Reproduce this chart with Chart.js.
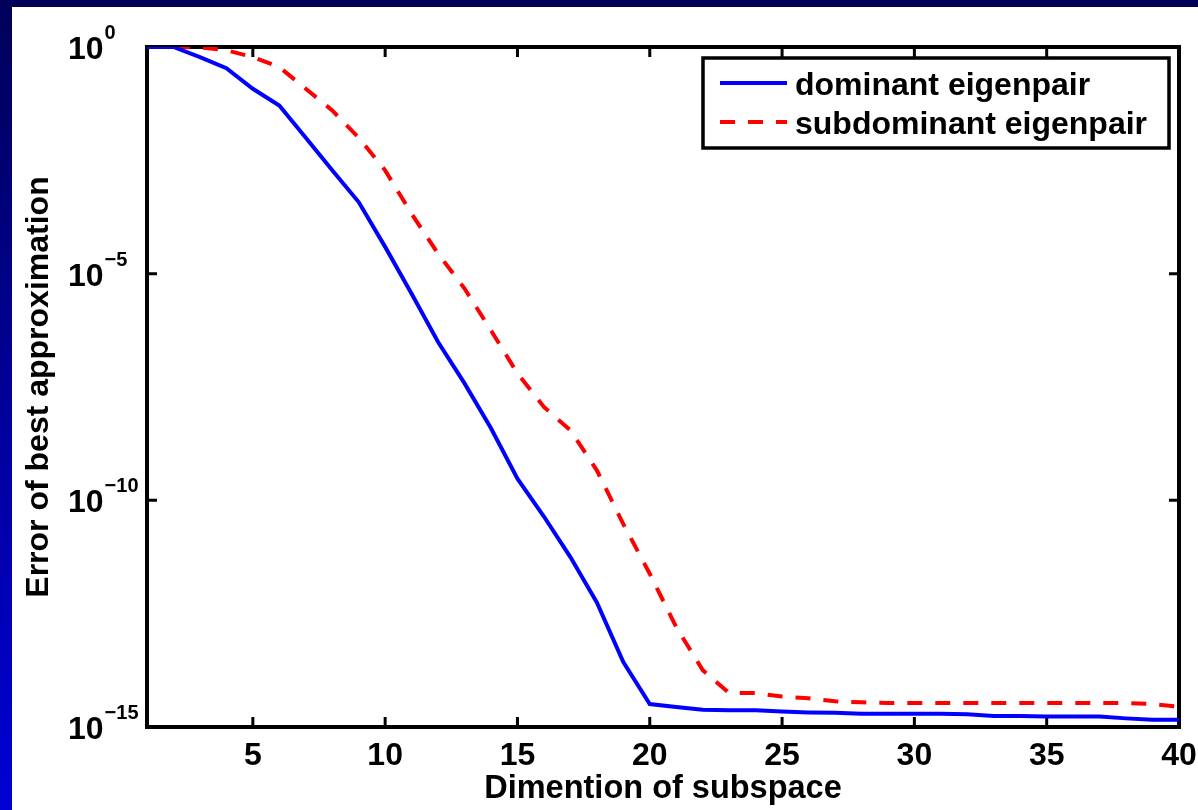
<!DOCTYPE html>
<html>
<head>
<meta charset="utf-8">
<title>Error of best approximation</title>
<script src="https://cdn.jsdelivr.net/npm/chart.js@4.4.1/dist/chart.umd.min.js"></script>
<style>
  html, body { margin: 0; padding: 0; }
  body {
    width: 1198px; height: 810px; overflow: hidden; position: relative;
    background: linear-gradient(to bottom, #000058 0%, #00009a 50%, #0000d4 100%);
  }
  #errChart { position: absolute; left: 12px; top: 7px; background: #ffffff; }
</style>
</head>
<body>
<canvas id="errChart" width="1186" height="803"></canvas>
<script>
// subspace dimension
var dims = [1, 2, 3, 4, 5, 6, 7, 8, 9, 10,
            11, 12, 13, 14, 15, 16, 17, 18, 19, 20,
            21, 22, 23, 24, 25, 26, 27, 28, 29, 30,
            31, 32, 33, 34, 35, 36, 37, 38, 39, 40];

// error of best approximation, dominant eigenpair
var dominantErr = [1, 1, 0.6, 0.34, 0.12, 0.051, 1.0e-2, 1.9e-3, 3.8e-4, 3.9e-5,
                   3.6e-6, 3.1e-7, 3.8e-8, 3.9e-9, 3.0e-10, 4.4e-11, 5.6e-12, 5.6e-13, 2.7e-14, 3.2e-15,
                   2.75e-15, 2.4e-15, 2.35e-15, 2.35e-15, 2.2e-15, 2.1e-15, 2.05e-15, 1.95e-15, 1.95e-15, 1.95e-15,
                   1.95e-15, 1.9e-15, 1.75e-15, 1.75e-15, 1.7e-15, 1.7e-15, 1.7e-15, 1.55e-15, 1.45e-15, 1.45e-15];

// error of best approximation, subdominant eigenpair
var subdominantErr = [1, 1, 0.98, 0.85, 0.6, 0.36, 0.12, 0.04, 1.0e-2, 1.9e-3,
                      2.1e-4, 2.75e-5, 4.7e-6, 5.6e-7, 6.3e-8, 1.15e-8, 3.5e-9, 4.6e-10, 3.0e-11, 2.4e-12,
                      1.6e-13, 1.8e-14, 5.6e-15, 5.6e-15, 4.7e-15, 4.3e-15, 3.7e-15, 3.5e-15, 3.4e-15, 3.4e-15,
                      3.4e-15, 3.4e-15, 3.4e-15, 3.4e-15, 3.4e-15, 3.4e-15, 3.4e-15, 3.4e-15, 3.2e-15, 2.8e-15];

var xTicks = [5, 10, 15, 20, 25, 30, 35, 40];
var yTicks = [1, 1e-5, 1e-10, 1e-15];
var yTickExp = ['0', '\u22125', '\u221210', '\u221215'];

var FONT = '"Liberation Sans", Arial, Helvetica, sans-serif';

function toPoints(xs, ys) {
    var pts = [];
    for (var i = 0; i < xs.length; i++) pts.push({x: xs[i], y: ys[i]});
    return pts;
}

// box, inward tick marks and the 10^n labels
var axesBox = {
    id: 'axesBox',
    beforeDatasetsDraw: function(chart) {
        var ctx = chart.ctx, a = chart.chartArea;
        var xs = chart.scales.x, ys = chart.scales.y;
        ctx.save();
        ctx.strokeStyle = '#000';
        ctx.lineWidth = 3;
        ctx.beginPath();
        xTicks.forEach(function(v) {
            var px = xs.getPixelForValue(v);
            ctx.moveTo(px, a.bottom); ctx.lineTo(px, a.bottom - 10);
            ctx.moveTo(px, a.top); ctx.lineTo(px, a.top + 10);
        });
        yTicks.forEach(function(v) {
            var py = ys.getPixelForValue(v);
            ctx.moveTo(a.left, py); ctx.lineTo(a.left + 10, py);
            ctx.moveTo(a.right, py); ctx.lineTo(a.right - 10, py);
        });
        ctx.stroke();
        ctx.lineWidth = 4;
        ctx.strokeRect(a.left, a.top, a.right - a.left, a.bottom - a.top);

        ctx.fillStyle = '#000';
        ctx.textAlign = 'left';
        ctx.textBaseline = 'alphabetic';
        yTicks.forEach(function(v, i) {
            var py = ys.getPixelForValue(v);
            ctx.font = 'bold 32px ' + FONT;
            ctx.fillText('10', 56, py + 12);
            var w = ctx.measureText('10').width;
            ctx.font = 'bold 20px ' + FONT;
            ctx.fillText(yTickExp[i], 56 + w + 1, py - 8);
        });
        ctx.restore();
    },
    afterDraw: function(chart) {
        // legend box
        var ctx = chart.ctx;
        var bx = 691, by = 51, bw = 466, bh = 90;
        ctx.save();
        ctx.fillStyle = '#fff';
        ctx.fillRect(bx, by, bw, bh);
        ctx.strokeStyle = '#000';
        ctx.lineWidth = 3.5;
        ctx.strokeRect(bx, by, bw, bh);
        var rows = [76, 115];
        chart.data.datasets.forEach(function(ds, i) {
            ctx.beginPath();
            ctx.strokeStyle = ds.borderColor;
            ctx.lineWidth = ds.borderWidth;
            ctx.setLineDash(ds.borderDash || []);
            ctx.moveTo(708, rows[i]);
            ctx.lineTo(775, rows[i]);
            ctx.stroke();
            ctx.setLineDash([]);
            ctx.fillStyle = '#000';
            ctx.font = 'bold 32px ' + FONT;
            ctx.textBaseline = 'middle';
            ctx.textAlign = 'left';
            ctx.fillText(ds.label, 783, rows[i] + 3);
        });
        ctx.restore();
    }
};

var ctx = document.getElementById('errChart').getContext('2d');
var errChart = new Chart(ctx, {
    type: 'line',
    data: {
        datasets: [{
            label: 'dominant eigenpair',
            data: toPoints(dims, dominantErr),
            borderColor: '#0000ff',
            borderWidth: 4,
            pointRadius: 0,
            tension: 0,
            fill: false
        }, {
            label: 'subdominant eigenpair',
            data: toPoints(dims, subdominantErr),
            borderColor: '#ff0000',
            borderWidth: 4,
            borderDash: [15, 13],
            borderCapStyle: 'butt',
            pointRadius: 0,
            tension: 0,
            fill: false
        }]
    },
    options: {
        responsive: false,
        animation: false,
        devicePixelRatio: 1,
        layout: {padding: {left: 0, top: 40, right: 19, bottom: 0}},
        plugins: {
            legend: {display: false},
            tooltip: {enabled: false}
        },
        scales: {
            x: {
                type: 'linear',
                min: 1,
                max: 40,
                grid: {display: false},
                border: {display: false},
                afterBuildTicks: function(scale) {
                    scale.ticks = xTicks.map(function(v) { return {value: v}; });
                },
                afterFit: function(scale) {
                    scale.height = 83;
                    scale.paddingLeft = 0;
                    scale.paddingRight = 0;
                },
                ticks: {
                    color: '#000',
                    padding: 2,
                    maxRotation: 0,
                    autoSkip: false,
                    font: {family: FONT, size: 32, weight: 'bold'}
                },
                title: {
                    display: true,
                    text: 'Dimention of subspace',
                    color: '#000',
                    padding: {top: 0, bottom: 1},
                    font: {family: FONT, size: 32.5, weight: 'bold'}
                }
            },
            y: {
                type: 'logarithmic',
                min: 1e-15,
                max: 1,
                grid: {display: false},
                border: {display: false},
                afterBuildTicks: function(scale) {
                    scale.ticks = yTicks.map(function(v) { return {value: v}; });
                },
                afterFit: function(scale) { scale.width = 135; },
                ticks: {display: false},
                title: {
                    display: true,
                    text: 'Error of best approximation',
                    color: '#000',
                    padding: {top: 8, bottom: 0},
                    font: {family: FONT, size: 32, weight: 'bold'}
                }
            }
        }
    },
    plugins: [axesBox]
});
</script>
</body>
</html>
